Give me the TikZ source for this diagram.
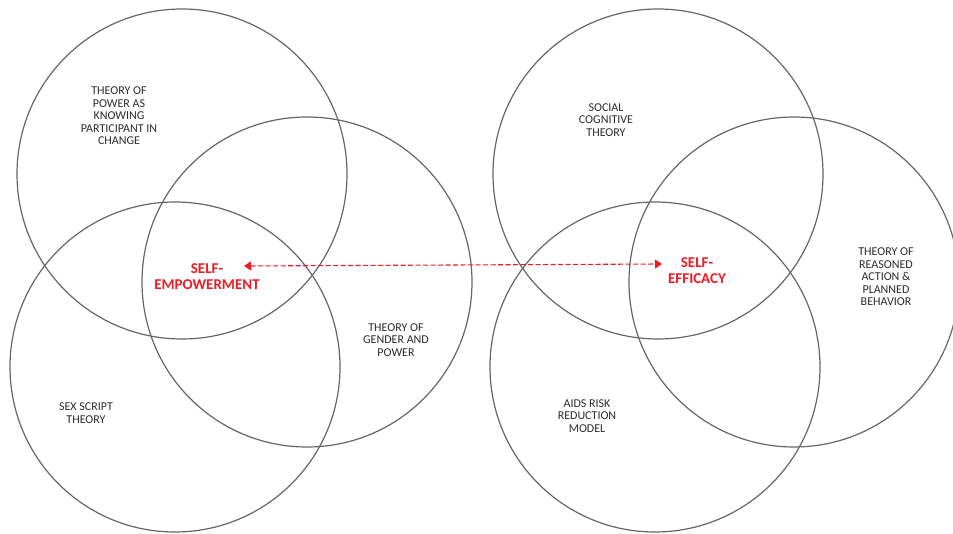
\documentclass[tikz,border=0pt]{standalone}
\usepackage{fontspec}
\setmainfont{Carlito}
\usetikzlibrary{arrows.meta}
\definecolor{ringgray}{HTML}{666666}
\definecolor{labelgray}{HTML}{2B2B2B}
\definecolor{focusred}{HTML}{EE1C25}
\begin{document}
\begin{tikzpicture}[
  x=1pt,
  y=-1pt,
  theoryring/.style={
    draw=ringgray,
    line width=1.2pt
  },
  theorylabel/.style={
    text=labelgray,
    align=center,
    font=\fontsize{12}{12.5}\selectfont,
    inner sep=0pt
  },
  focuslabel/.style={
    text=focusred,
    align=center,
    font=\fontsize{15}{16}\selectfont\bfseries,
    inner sep=0pt
  },
  linkarrow/.style={
    draw=focusred,
    line width=1.1pt,
    dash pattern=on 5pt off 2.5pt,
    {Triangle[length=7pt,width=9pt]}-{Triangle[length=7pt,width=9pt]}
  }
]

\useasboundingbox (0,0) rectangle (953,534);

\foreach \cx/\cy in {182/174, 307/282, 175/367, 658/174, 794/282, 655/367} {
  \draw[theoryring] (\cx,\cy) circle[radius=165];
}

\node[theorylabel] (power) at (119,116) {THEORY OF\\POWER AS\\KNOWING\\PARTICIPANT IN\\CHANGE};
\node[theorylabel] (gender) at (396,340) {THEORY OF\\GENDER AND\\POWER};
\node[theorylabel] (sexscript) at (86,413) {SEX SCRIPT\\THEORY};
\node[theorylabel] (social) at (606,120) {SOCIAL\\COGNITIVE\\THEORY};
\node[theorylabel] (reasoned) at (886,277) {THEORY OF\\REASONED\\ACTION \&\\PLANNED\\BEHAVIOR};
\node[theorylabel] (aids) at (587,416) {AIDS RISK\\REDUCTION\\MODEL};

\node[focuslabel] (empower) at (207,277) {SELF-\\EMPOWERMENT};
\node[focuslabel] (efficacy) at (697,271) {SELF-\\EFFICACY};

\coordinate (empowertip) at (244,266);
\coordinate (efficacytip) at (662,264);
\draw[linkarrow] (empowertip) -- (efficacytip);

\end{tikzpicture}
\end{document}
